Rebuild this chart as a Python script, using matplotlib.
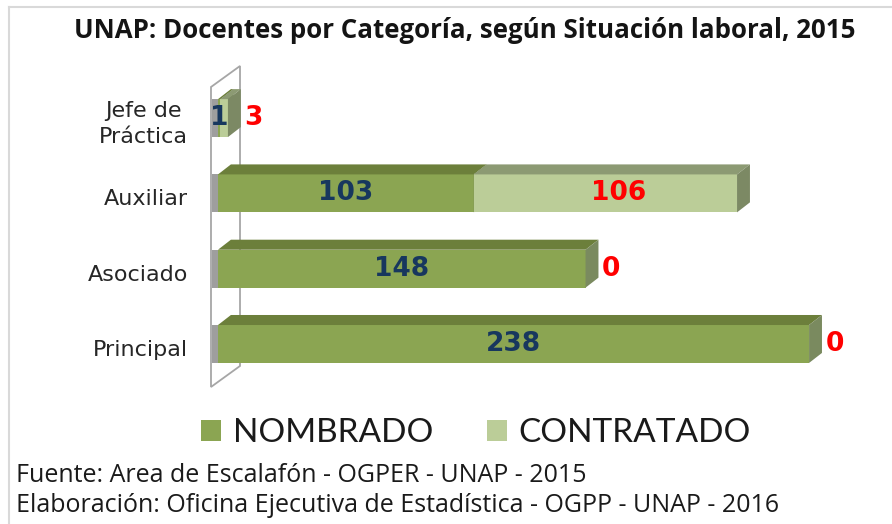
import matplotlib.pyplot as plt
from matplotlib.patches import Polygon, Patch

# datos
categorias = ['Principal', 'Asociado', 'Auxiliar', 'Jefe de\nPráctica']
nombrado = [238, 148, 103, 1]
contratado = [0, 0, 106, 3]
series = ['NOMBRADO', 'CONTRATADO']

titulo = 'UNAP: Docentes por Categoría, según Situación laboral, 2015'
fuente = 'Fuente: Area de Escalafón - OGPER - UNAP - 2015'
elaboracion = 'Elaboración: Oficina Ejecutiva de Estadística - OGPP - UNAP - 2016'

# colores (frente, arriba, lado)
col_nom = ('#8BA552', '#6C7F3B', '#7A8A5F')
col_con = ('#BBCD98', '#8C9A73', '#7C8964')
azul = '#17375E'
rojo = '#FF0000'

fig = plt.figure(figsize=(8.92, 5.24), dpi=100)
ax = fig.add_axes([218 / 892, 124 / 524, 674 / 892, 345 / 524])
ax.set_xlim(0, 271.4)
ax.set_ylim(-0.744, 3.838)
ax.axis('off')

H = 0.252   # media altura de barra
DX = 5.2    # profundidad en x
DY = 0.133  # profundidad en y


def barra3d(x0, x1, c, cols, z):
    fr, tp, sd = cols
    ax.add_patch(Polygon([(x0, c - H), (x1, c - H), (x1, c + H), (x0, c + H)],
                         closed=True, facecolor=fr, edgecolor='none', zorder=z))
    ax.add_patch(Polygon([(x0, c + H), (x1, c + H), (x1 + DX, c + H + DY), (x0 + DX, c + H + DY)],
                         closed=True, facecolor=tp, edgecolor='none', zorder=z))
    ax.add_patch(Polygon([(x1, c - H), (x1 + DX, c - H + DY), (x1 + DX, c + H + DY), (x1, c + H)],
                         closed=True, facecolor=sd, edgecolor='none', zorder=z))


# pared
xf, xb = -2.82, 8.86
yb, yt, dw = -0.571, 3.413, 0.279
ax.add_patch(Polygon([(xf, yb), (xb, yb + dw), (xb, yt + dw), (xf, yt)], closed=True,
                     facecolor='white', edgecolor='#A6A6A6', lw=1.3, zorder=1, clip_on=False))

for i, cat in enumerate(categorias):
    n, c = nombrado[i], contratado[i]
    # sombra en la pared
    ax.add_patch(Polygon([(xf + 0.6, i - H), (0, i - H), (0, i + H), (xf + 0.6, i + H)],
                         closed=True, facecolor='#9E9E9E', edgecolor='none', zorder=2, clip_on=False))
    z = 3 + i * 2
    if n > 0:
        barra3d(0, n, i, col_nom, z)
    if c > 0:
        barra3d(n, n + c, i, col_con, z + 1)

    # etiquetas de categoria
    ax.text(-12.1, i - 0.08, cat, ha='right', va='center', ma='center', fontsize=16,
            color='#262626', linespacing=1.35, family='DejaVu Sans')

    # valores
    ax.text(n / 2, i, str(n), ha='center', va='center', fontsize=19, fontweight='bold',
            color=azul, zorder=20)
    if c >= 20:
        ax.text(n + c / 2 + DX, i, str(c), ha='center', va='center', fontsize=19,
                fontweight='bold', color=rojo, zorder=20)
    else:
        ax.text(n + c + DX + 1.5, i, str(c), ha='left', va='center', fontsize=19,
                fontweight='bold', color=rojo, zorder=20)

# titulo
fig.text(465 / 892, 1 - 31 / 524, titulo, ha='center', va='center', fontsize=18.6,
         fontweight='bold', family='Open Sans', color='#141414')

# leyenda
handles = [Patch(facecolor=col_nom[0]), Patch(facecolor=col_con[0])]
leg = fig.legend(handles, series, loc='center', bbox_to_anchor=(476 / 892, 1 - 433 / 524),
                 ncol=2, frameon=False, handlelength=0.6, handleheight=0.6,
                 handletextpad=0.35, columnspacing=1.6, prop={'family': 'Lato', 'size': 24})
for t in leg.get_texts():
    t.set_color('#1a1a1a')

# notas
fig.text(16 / 892, 1 - 476 / 524, fuente, ha='left', va='center', fontsize=18,
         family='Open Sans', color='#1a1a1a')
fig.text(16 / 892, 1 - 505 / 524, elaboracion, ha='left', va='center', fontsize=18,
         family='Open Sans', color='#1a1a1a')

# borde
fig.add_artist(plt.Line2D([9 / 892, 1], [1 - 7 / 524, 1 - 7 / 524], color='#D9D9D9', lw=1.5))
fig.add_artist(plt.Line2D([9 / 892, 9 / 892], [0, 1 - 7 / 524], color='#D9D9D9', lw=1.5))

fig.savefig('out.png', dpi=100)
plt.close()
